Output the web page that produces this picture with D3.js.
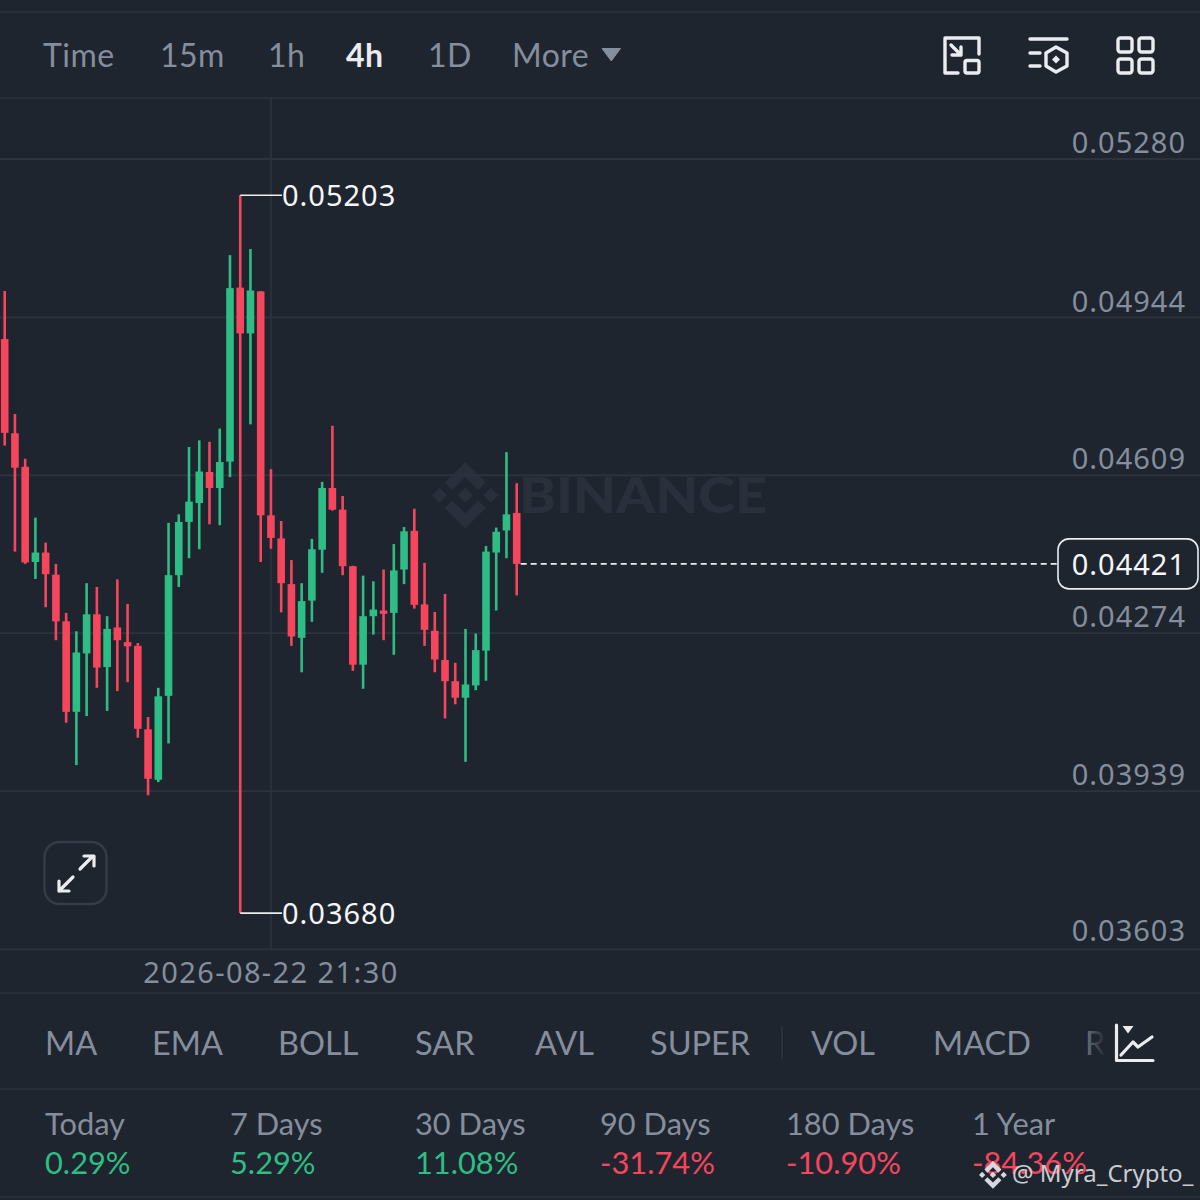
<!DOCTYPE html>
<html>
<head>
<meta charset="utf-8">
<script src="https://cdn.jsdelivr.net/npm/d3@7/dist/d3.min.js"></script>
<style>
html,body{margin:0;padding:0;background:#1f252f;overflow:hidden}
svg{display:block}
</style>
</head>
<body>
<svg id="c" width="1200" height="1200"></svg>
<script>
const openPrices=[0.04898,0.04698,0.04627,0.04425,0.04445,0.04398,0.04299,0.04107,0.04231,0.04314,0.04202,0.04286,0.04255,0.04247,0.04070,0.03963,0.04141,0.04397,0.04510,0.04550,0.04616,0.04582,0.04638,0.05007,0.04910,0.04999,0.04524,0.04475,0.04378,0.04264,0.04343,0.04451,0.04582,0.04536,0.04416,0.04207,0.04310,0.04322,0.04317,0.04409,0.04491,0.04335,0.04279,0.04217,0.04172,0.04137,0.04163,0.04237,0.04445,0.04492,0.04529];
const highPrices=[0.05000,0.04739,0.04644,0.04519,0.04466,0.04421,0.04317,0.04278,0.04380,0.04372,0.04310,0.04388,0.04336,0.04253,0.04096,0.04158,0.04508,0.04526,0.04669,0.04683,0.04680,0.04708,0.05076,0.05203,0.05089,0.05000,0.04622,0.04512,0.04429,0.04380,0.04474,0.04595,0.04714,0.04565,0.04417,0.04396,0.04384,0.04409,0.04463,0.04499,0.04538,0.04423,0.04319,0.04357,0.04211,0.04283,0.04273,0.04459,0.04498,0.04658,0.04592];
const lowPrices=[0.04672,0.04447,0.04421,0.04389,0.04329,0.04259,0.04084,0.03994,0.04098,0.04158,0.04109,0.04151,0.04170,0.04052,0.03930,0.03958,0.04040,0.04372,0.04433,0.04452,0.04505,0.04503,0.04605,0.03680,0.04717,0.04425,0.04453,0.04318,0.04247,0.04191,0.04298,0.04402,0.04534,0.04397,0.04194,0.04156,0.04271,0.04259,0.04228,0.04378,0.04326,0.04247,0.04191,0.04093,0.04123,0.04001,0.04153,0.04173,0.04322,0.04433,0.04354];
const closePrices=[0.04699,0.04625,0.04424,0.04445,0.04399,0.04299,0.04107,0.04233,0.04314,0.04201,0.04283,0.04259,0.04246,0.04071,0.03965,0.04140,0.04397,0.04510,0.04553,0.04617,0.04582,0.04637,0.05006,0.04910,0.05001,0.04524,0.04476,0.04380,0.04267,0.04342,0.04452,0.04582,0.04536,0.04416,0.04207,0.04310,0.04324,0.04315,0.04407,0.04490,0.04334,0.04281,0.04218,0.04172,0.04137,0.04165,0.04238,0.04447,0.04489,0.04526,0.04421];
const priceTicks=[0.05280,0.04944,0.04609,0.04274,0.03939,0.03603];
const maxPrice=0.05203, minPrice=0.03680, lastPrice=0.04421;
const crosshairIndex=26, crosshairLabel="2026-08-22 21:30";
const timeTabs=["Time","15m","1h","4h","1D","More"];
const timeTabX=[43,160,268,346,428,512];
const activeTab="4h";
const indicators=["MA","EMA","BOLL","SAR","AVL","SUPER","VOL","MACD","RSI"];
const indicatorX=[45,152,278,415,535,650,811,933,1085];
const periods=["Today","7 Days","30 Days","90 Days","180 Days","1 Year"];
const periodChanges=["0.29%","5.29%","11.08%","-31.74%","-10.90%","-84.36%"];
const periodX=[45,230,415,600,786,972];

const BG="#1f252f",GRID="#2d333e",UP="#2ebd85",DOWN="#f6465d",MUTED="#848e9c",WHITE="#eaecef";
const UIFONT="Lato, 'Open Sans', sans-serif", NUMFONT="'Noto Sans', 'Open Sans', sans-serif";
const LOGO="M38.73 53.2l24.59-24.58 24.6 24.6 14.3-14.31L63.32 0 24.43 38.9zM0 63.31l14.3-14.31 14.31 14.31-14.31 14.3zM38.73 73.41l24.59 24.59 24.6-24.6 14.31 14.29-38.9 38.91-38.91-38.88v-.03zM98 63.31l14.3-14.31 14.31 14.3-14.31 14.32zM77.83 63.3L63.32 48.78 52.59 59.51l-1.24 1.23-2.54 2.54 14.51 14.5 14.51-14.47z";

const svg=d3.select("#c");
svg.append("rect").attr("width",1200).attr("height",1200).attr("fill",BG);
const defs=svg.append("defs");
const fade=defs.append("linearGradient").attr("id","fade").attr("gradientUnits","userSpaceOnUse")
  .attr("x1",1085).attr("x2",1106).attr("y1",0).attr("y2",0);
fade.append("stop").attr("offset",0).attr("stop-color",BG).attr("stop-opacity",0.25);
fade.append("stop").attr("offset",1).attr("stop-color",BG).attr("stop-opacity",1);

const x=d3.scaleLinear().domain([0,openPrices.length-1]).range([4.7,516.7]);
const y=d3.scaleLinear().domain([priceTicks[0],priceTicks[priceTicks.length-1]]).range([159,949.4]);

// chrome lines
[12,98,993,1089,1197].forEach(v=>svg.append("line").attr("x1",0).attr("x2",1200).attr("y1",v).attr("y2",v).attr("stroke",GRID).attr("stroke-width",1.6));

// watermark
const wm=svg.append("g");
wm.append("path").attr("d",LOGO).attr("transform","translate(432,462) scale(0.525)").attr("fill","#2a303b");
wm.append("text").text("BINANCE").attr("x",519).attr("y",513).attr("font-family","Lato, sans-serif").attr("font-weight",900)
  .attr("font-size",50).attr("fill","#2a303b").attr("textLength",248).attr("lengthAdjust","spacingAndGlyphs");

// price axis
const axis=d3.axisRight(y).tickValues(priceTicks).tickFormat(d3.format(".5f")).tickSize(1200).tickPadding(0).offset(0);
const ag=svg.append("g").call(axis);
ag.select(".domain").remove();
ag.selectAll(".tick line").attr("stroke",GRID).attr("stroke-width",1.8);
ag.selectAll(".tick text").attr("x",1186).attr("y",d=>Math.min(-16,931-y(d))).attr("dy","0.35em").attr("text-anchor","end")
  .attr("font-family",NUMFONT).attr("font-size",29).attr("letter-spacing",1).attr("fill",MUTED);

// crosshair
svg.append("line").attr("x1",x(crosshairIndex)).attr("x2",x(crosshairIndex)).attr("y1",98).attr("y2",949).attr("stroke",GRID).attr("stroke-width",1.6);
svg.append("text").text(crosshairLabel).attr("x",x(crosshairIndex)).attr("y",973).attr("dy","0.35em").attr("text-anchor","middle")
  .attr("font-family",NUMFONT).attr("font-size",29).attr("letter-spacing",1.4).attr("fill",MUTED);

// candles
const candles=openPrices.map((o,i)=>({i,o,h:highPrices[i],l:lowPrices[i],c:closePrices[i]}));
const colour=d=>d.c>=d.o?UP:DOWN;
const cg=svg.append("g");
cg.selectAll("line").data(candles).join("line")
  .attr("x1",d=>x(d.i)).attr("x2",d=>x(d.i)).attr("y1",d=>y(d.h)).attr("y2",d=>y(d.l))
  .attr("stroke",colour).attr("stroke-width",2.6);
cg.selectAll("rect").data(candles).join("rect")
  .attr("x",d=>x(d.i)-3.8).attr("width",7.6)
  .attr("y",d=>y(Math.max(d.o,d.c))).attr("height",d=>Math.max(1.5,Math.abs(y(d.o)-y(d.c))))
  .attr("fill",colour);

// high / low markers
const extremeIndex=highPrices.indexOf(maxPrice);
[maxPrice,minPrice].forEach(v=>{
  svg.append("line").attr("x1",x(extremeIndex)).attr("x2",282).attr("y1",y(v)).attr("y2",y(v)).attr("stroke",WHITE).attr("stroke-width",1.6);
  svg.append("text").text(d3.format(".5f")(v)).attr("x",282).attr("y",y(v)+1).attr("dy","0.35em")
    .attr("font-family",NUMFONT).attr("font-size",29).attr("letter-spacing",1).attr("fill","#f5f6f7");
});

// last price
svg.append("line").attr("x1",x(openPrices.length-1)+4).attr("x2",1057).attr("y1",y(lastPrice)).attr("y2",y(lastPrice))
  .attr("stroke",WHITE).attr("stroke-width",1.6).attr("stroke-dasharray","6 4");
svg.append("rect").attr("x",1058).attr("y",y(lastPrice)-25).attr("width",140).attr("height",50).attr("rx",11)
  .attr("fill",BG).attr("stroke",WHITE).attr("stroke-width",1.6);
svg.append("text").text(d3.format(".5f")(lastPrice)).attr("x",1186).attr("y",y(lastPrice)+1).attr("dy","0.35em").attr("text-anchor","end")
  .attr("font-family",NUMFONT).attr("font-size",29).attr("letter-spacing",1).attr("fill","#f5f6f7");

// top tabs
timeTabs.forEach((t,i)=>{
  svg.append("text").text(t).attr("x",timeTabX[i]).attr("y",56).attr("dy","0.35em")
    .attr("font-family",UIFONT).attr("font-size",32).attr("font-weight",t===activeTab?700:400)
    .attr("letter-spacing",0.5).attr("fill",t===activeTab?WHITE:MUTED);
});
svg.append("path").attr("d","M602 48.5h18.5l-9.2 12.5z").attr("fill",MUTED).attr("stroke",MUTED).attr("stroke-width",1).attr("stroke-linejoin","round");

// top icons
const ic=svg.append("g").attr("fill","none").attr("stroke",WHITE).attr("stroke-width",3.4).attr("stroke-linecap","round").attr("stroke-linejoin","round");
ic.append("path").attr("d","M958 73H945V38H979V54");
ic.append("rect").attr("x",965).attr("y",60.5).attr("width",14).attr("height",12.5).attr("rx",2);
ic.append("path").attr("d","M951 45L961 55M961 47V55H952");
ic.append("path").attr("d","M1030 39H1067M1030 53H1040M1030 66H1040");
ic.append("path").attr("d","M1056 47L1067 53V66L1056 72L1046 66V53Z");
ic.append("path").attr("d","M1056 55.5l4 4-4 4-4-4z").attr("fill",WHITE).attr("stroke","none");
[[1118,38],[1139,38],[1118,59],[1139,59]].forEach(p=>ic.append("rect").attr("x",p[0]).attr("y",p[1]).attr("width",14).attr("height",14).attr("rx",2.5));

// expand button
svg.append("rect").attr("x",44.5).attr("y",842).attr("width",62).attr("height",62).attr("rx",15).attr("fill","none").attr("stroke","#363c47").attr("stroke-width",2.4);
svg.append("path").attr("d","M80 869L93 856M84 856H94V866M73 877L59 891M59 881V891H69").attr("fill","none").attr("stroke",WHITE).attr("stroke-width",3.2).attr("stroke-linecap","round").attr("stroke-linejoin","round");

// indicator tabs
indicators.forEach((t,i)=>{
  svg.append("text").text(t).attr("x",indicatorX[i]).attr("y",1044).attr("dy","0.35em")
    .attr("font-family",UIFONT).attr("font-size",32.5).attr("fill",MUTED);
});
svg.append("rect").attr("x",1085).attr("y",1020).attr("width",80).attr("height",50).attr("fill","url(#fade)");
svg.append("line").attr("x1",782).attr("x2",782).attr("y1",1026).attr("y2",1059).attr("stroke",GRID).attr("stroke-width",1.6);
const ci=svg.append("g").attr("fill","none").attr("stroke",WHITE).attr("stroke-width",3.2).attr("stroke-linecap","round").attr("stroke-linejoin","round");
ci.append("path").attr("d","M1116.5 1025V1060.5H1153");
ci.append("path").attr("d","M1121 1055L1133 1042L1138 1047L1152 1037");
svg.append("path").attr("d","M1122.5 1026h11l-5.5 7.5z").attr("fill",WHITE);

// period stats
periods.forEach((t,i)=>{
  svg.append("text").text(t).attr("x",periodX[i]).attr("y",1124).attr("dy","0.35em")
    .attr("font-family",UIFONT).attr("font-size",30.8).attr("fill",MUTED);
  svg.append("text").text(periodChanges[i]).attr("x",periodX[i]).attr("y",1163).attr("dy","0.35em")
    .attr("font-family",UIFONT).attr("font-size",30.8).attr("fill",periodChanges[i][0]==="-"?DOWN:UP);
});

// creator watermark
svg.append("path").attr("d",LOGO).attr("transform","translate(979,1161) scale(0.22)").attr("fill","#d5d8dc");
svg.append("text").text("@ Myra_Crypto_").attr("x",1012).attr("y",1174).attr("dy","0.35em")
  .attr("font-family",NUMFONT).attr("font-size",24).attr("fill","#c9cdd3");
</script>
</body>
</html>
